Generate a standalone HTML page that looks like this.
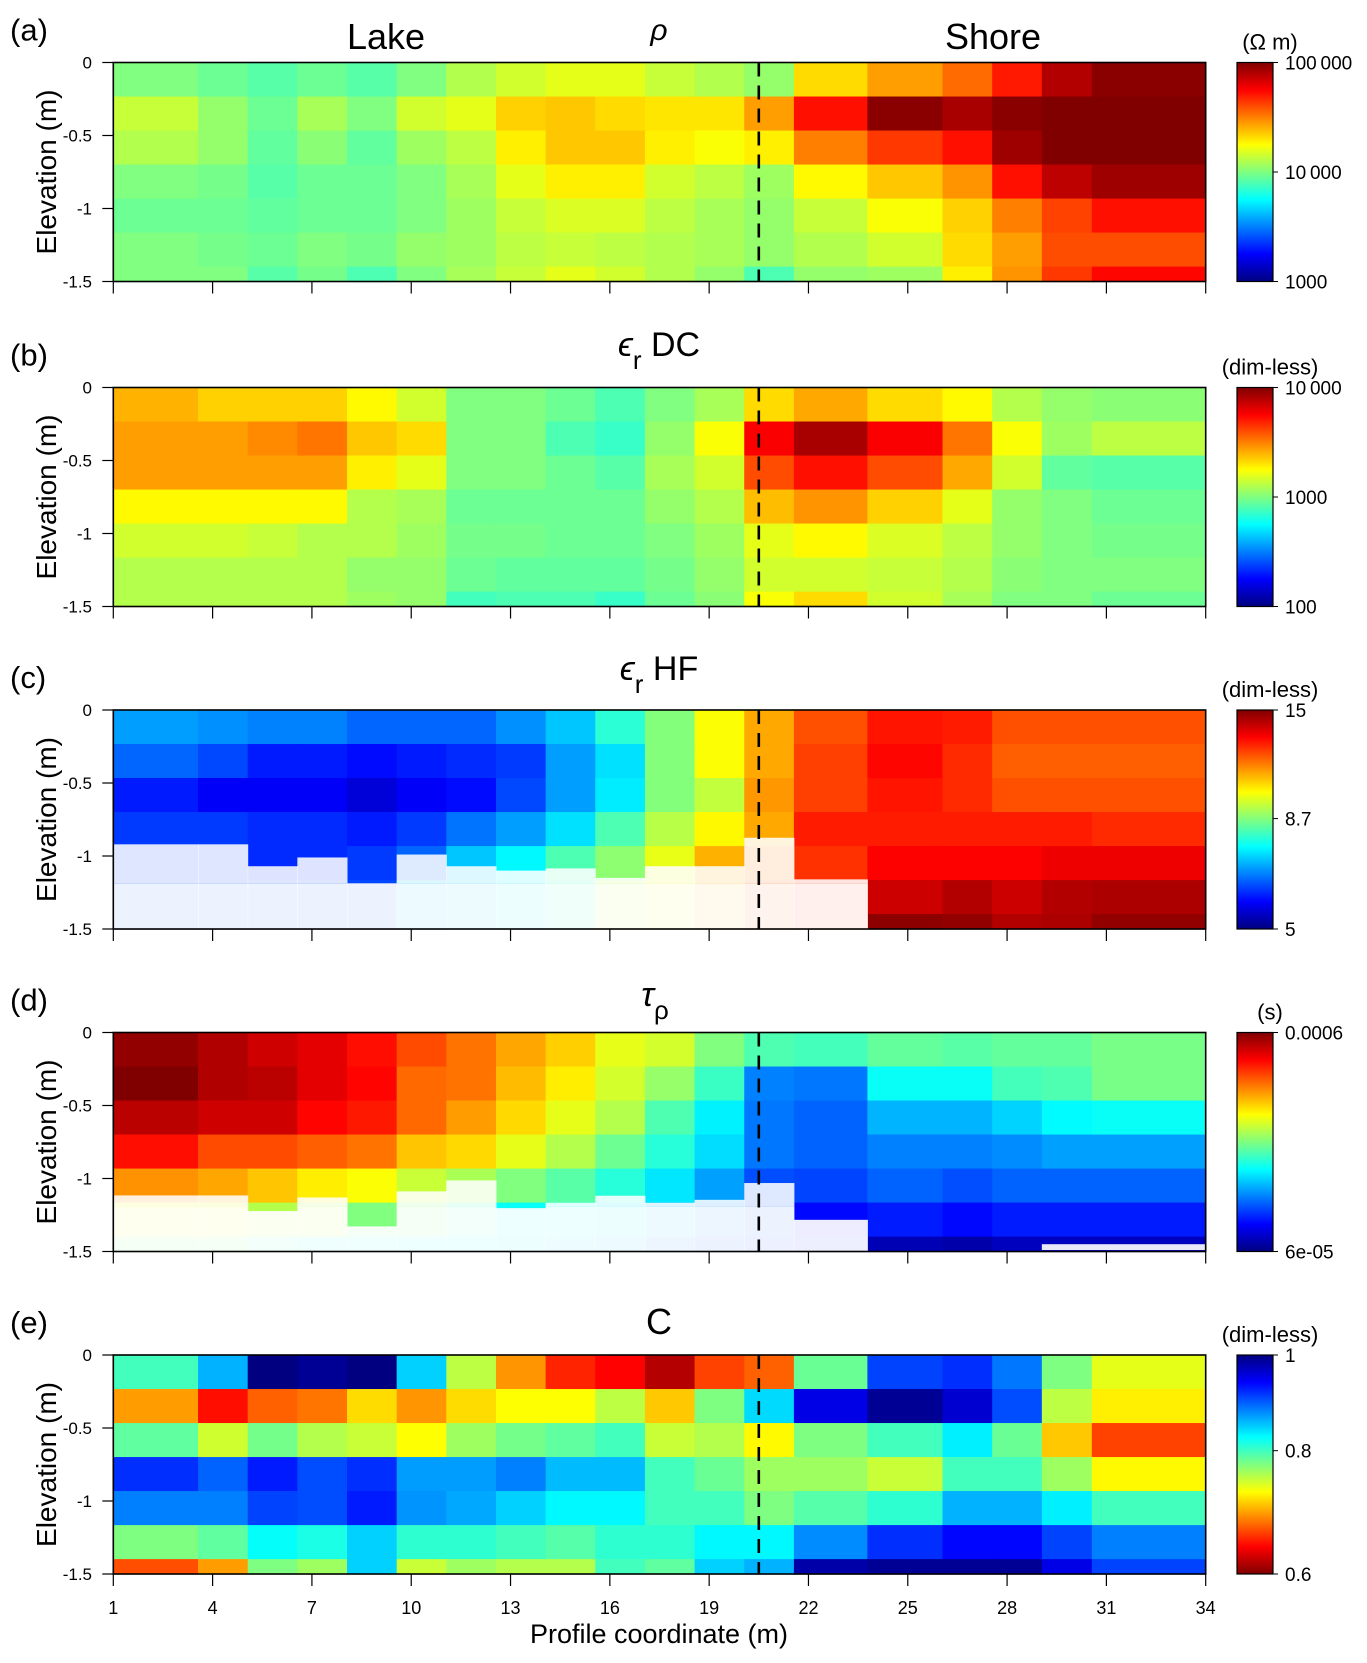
<!DOCTYPE html>
<html><head><meta charset="utf-8"><style>
html,body{margin:0;padding:0;background:#fff;}
svg{display:block;font-family:"Liberation Sans",Arial,sans-serif;}
</style></head><body>
<svg id="fig" width="1367" height="1663" viewBox="0 0 1367 1663" xmlns="http://www.w3.org/2000/svg">
<defs>
<linearGradient id="jetUp" x1="0" y1="1" x2="0" y2="0">
<stop offset="0" stop-color="#000080"/><stop offset="0.125" stop-color="#0000ff"/><stop offset="0.375" stop-color="#00ffff"/><stop offset="0.625" stop-color="#ffff00"/><stop offset="0.875" stop-color="#ff0000"/><stop offset="1" stop-color="#800000"/>
</linearGradient>
<linearGradient id="jetDown" x1="0" y1="0" x2="0" y2="1">
<stop offset="0" stop-color="#000080"/><stop offset="0.125" stop-color="#0000ff"/><stop offset="0.375" stop-color="#00ffff"/><stop offset="0.625" stop-color="#ffff00"/><stop offset="0.875" stop-color="#ff0000"/><stop offset="1" stop-color="#800000"/>
</linearGradient>
</defs>
</svg>
<script>
// ---- shared grid (m) ----
const colEdges = [1,3.56,5.06,6.56,8.06,9.56,11.06,12.56,14.06,15.56,17.06,18.56,20.06,21.56,23.78,26.05,27.55,29.05,30.56,34];
const rowEdges = [0,-0.233,-0.466,-0.699,-0.932,-1.165,-1.398,-1.5];
const xTicks = [1,4,7,10,13,16,19,22,25,28,31,34];
const yTicks = [0,-0.5,-1,-1.5];
const yTickLabels = ["0","-0.5","-1","-1.5"];
const shoreLine = 20.5;

// ---- (a) log10 resistivity (Ohm m) ----
const logRho = [
[4.00,3.96,3.92,3.96,3.92,4.00,4.10,4.16,4.20,4.20,4.14,4.10,4.04,4.32,4.44,4.54,4.70,4.90,4.98],
[4.14,4.04,3.96,4.08,4.00,4.16,4.20,4.34,4.36,4.32,4.30,4.30,4.44,4.72,4.98,4.92,4.98,5.00,5.00],
[4.10,4.04,3.94,4.02,3.94,4.06,4.12,4.28,4.36,4.36,4.28,4.24,4.28,4.50,4.64,4.72,4.94,5.00,5.00],
[4.00,3.98,3.92,3.96,3.96,4.00,4.08,4.20,4.28,4.28,4.16,4.12,4.06,4.26,4.36,4.46,4.72,4.88,4.94],
[3.96,3.96,3.94,3.96,3.96,4.00,4.06,4.14,4.18,4.18,4.12,4.08,4.04,4.14,4.24,4.34,4.50,4.62,4.72],
[4.00,3.98,3.96,4.00,3.98,4.04,4.06,4.12,4.14,4.12,4.10,4.08,4.04,4.10,4.16,4.32,4.44,4.60,4.60],
[4.00,4.00,3.92,3.98,3.90,4.00,4.08,4.14,4.20,4.16,4.10,4.04,3.90,4.04,4.06,4.28,4.46,4.64,4.74]];
// ---- (b) log10 eps_r DC ----
const logEpsDC = [
[3.40,3.34,3.34,3.34,3.26,3.16,3.00,3.00,2.96,2.90,3.00,3.08,3.32,3.42,3.32,3.26,3.10,3.04,3.02],
[3.44,3.44,3.48,3.52,3.36,3.32,3.00,3.00,2.90,2.86,3.04,3.24,3.76,3.92,3.76,3.52,3.24,3.06,3.12],
[3.44,3.44,3.44,3.44,3.28,3.20,3.00,3.00,2.96,2.92,3.08,3.16,3.60,3.72,3.60,3.42,3.16,2.94,2.92],
[3.26,3.26,3.26,3.26,3.10,3.08,2.96,2.96,2.96,2.96,3.04,3.10,3.38,3.46,3.34,3.20,3.04,3.00,2.96],
[3.16,3.16,3.14,3.10,3.10,3.06,2.98,2.98,2.96,2.96,3.00,3.06,3.20,3.26,3.18,3.12,3.04,3.00,2.98],
[3.10,3.10,3.10,3.10,3.04,3.04,2.96,2.94,2.94,2.94,2.98,3.04,3.16,3.16,3.14,3.10,3.02,3.00,3.00],
[3.10,3.10,3.10,3.10,3.06,3.04,2.88,2.90,2.90,2.86,2.96,3.02,3.24,3.32,3.16,3.08,3.00,3.00,2.96]];
// ---- (c) eps_r HF (log colour scale 5-15) ----
const epsHF = [
[6.8,6.7,6.6,6.6,6.4,6.4,6.4,6.7,7.1,7.9,8.7,9.9,10.9,12.0,12.8,12.7,12.0,12.0,12.0],
[6.4,6.2,5.9,5.9,5.8,5.9,6.0,6.1,6.8,7.3,8.7,9.9,10.9,12.2,13.0,12.5,11.8,11.8,11.8],
[5.9,5.7,5.7,5.7,5.5,5.7,5.8,6.2,6.8,7.4,8.7,9.3,11.1,12.2,12.8,12.5,12.0,12.0,12.0],
[6.1,6.1,6.0,6.0,5.9,6.1,6.5,6.8,7.3,8.2,9.2,10.0,10.9,12.7,12.7,12.7,12.7,12.7,12.5],
[6.2,6.2,6.0,6.0,6.1,6.4,7.1,7.5,8.2,8.8,9.7,10.8,11.4,12.4,13.1,13.1,13.1,13.3,13.3],
[6.2,6.2,6.2,6.2,6.2,7.0,7.1,7.4,8.1,9.2,9.7,10.8,11.8,12.5,13.8,14.2,13.8,14.2,14.3],
[6.2,6.2,6.2,6.2,6.2,7.0,7.1,7.4,8.1,9.2,9.7,10.8,11.8,12.5,14.8,14.7,14.2,14.3,14.7]];
const maskHF = [0.92,0.92,1.07,1.01,1.186,0.99,1.07,1.10,1.085,1.15,1.07,1.07,0.875,1.16];
// ---- (d) log10 tau_rho (s) ----
const logTau = [
[-3.24,-3.27,-3.30,-3.32,-3.36,-3.42,-3.46,-3.51,-3.55,-3.62,-3.64,-3.72,-3.77,-3.78,-3.75,-3.76,-3.75,-3.75,-3.73],
[-3.22,-3.27,-3.28,-3.32,-3.35,-3.45,-3.46,-3.53,-3.58,-3.64,-3.70,-3.79,-3.97,-3.98,-3.84,-3.84,-3.78,-3.77,-3.73],
[-3.28,-3.30,-3.30,-3.35,-3.37,-3.45,-3.50,-3.56,-3.62,-3.67,-3.77,-3.86,-3.98,-4.00,-3.92,-3.92,-3.89,-3.85,-3.84],
[-3.36,-3.42,-3.42,-3.44,-3.46,-3.54,-3.56,-3.62,-3.67,-3.74,-3.81,-3.88,-3.98,-4.00,-3.97,-3.97,-3.96,-3.94,-3.94],
[-3.49,-3.51,-3.54,-3.58,-3.60,-3.65,-3.68,-3.72,-3.76,-3.81,-3.87,-3.94,-4.02,-4.03,-4.00,-4.02,-4.00,-4.00,-4.00],
[-3.62,-3.62,-3.67,-3.67,-3.72,-3.72,-3.77,-3.84,-3.84,-3.87,-3.92,-3.97,-4.02,-4.09,-4.07,-4.09,-4.07,-4.07,-4.07],
[-3.72,-3.72,-3.77,-3.82,-3.82,-3.84,-3.84,-3.87,-3.89,-3.92,-3.97,-4.02,-4.04,-4.07,-4.17,-4.18,-4.16,-4.16,-4.16]];
const maskTau = [1.116,1.116,1.223,1.13,1.328,1.088,1.013,1.203,1.166,1.118,1.166,1.146,1.031,1.283];
// ---- (e) C (log colour scale 0.6-1, reversed) ----
const chargC = [
[0.799,0.858,1.000,0.990,1.000,0.845,0.751,0.689,0.651,0.640,0.616,0.661,0.671,0.783,0.907,0.917,0.884,0.775,0.736],
[0.692,0.644,0.671,0.678,0.714,0.689,0.714,0.727,0.727,0.751,0.707,0.775,0.841,0.950,0.990,0.960,0.903,0.751,0.721],
[0.787,0.744,0.779,0.755,0.747,0.727,0.763,0.779,0.787,0.799,0.747,0.755,0.725,0.775,0.799,0.832,0.783,0.707,0.661],
[0.917,0.893,0.926,0.903,0.917,0.867,0.867,0.880,0.854,0.854,0.799,0.783,0.763,0.763,0.747,0.799,0.799,0.763,0.725],
[0.880,0.880,0.907,0.903,0.926,0.871,0.862,0.845,0.828,0.828,0.799,0.799,0.775,0.791,0.807,0.858,0.858,0.832,0.799],
[0.775,0.787,0.824,0.815,0.845,0.807,0.807,0.799,0.791,0.807,0.807,0.828,0.828,0.875,0.917,0.936,0.936,0.907,0.880],
[0.665,0.692,0.775,0.763,0.845,0.747,0.763,0.755,0.755,0.799,0.787,0.845,0.858,0.980,0.990,0.990,0.990,0.950,0.907]];

const NS = "http://www.w3.org/2000/svg";
const svg = document.getElementById("fig");
const X0 = 113.3, X1 = 1205.7, PH = 219;
const tops = [62.5, 387.5, 710, 1032.5, 1355];
function xS(m){ return X0 + (m - 1) / 33 * (X1 - X0); }
function yS(top, e){ return top + (-e) / 1.5 * PH; }
function el(tag, attrs, parent){ const e = document.createElementNS(NS, tag); for (const k in attrs) e.setAttribute(k, attrs[k]); (parent||svg).appendChild(e); return e; }
function clamp(v){ return Math.max(0, Math.min(1, v)); }
function jet(t){
  t = clamp(t);
  const r = clamp(Math.min(4*t-1.5, -4*t+4.5)), g = clamp(Math.min(4*t-0.5, -4*t+3.5)), b = clamp(Math.min(4*t+0.5, -4*t+2.5));
  return "rgb(" + Math.round(r*255) + "," + Math.round(g*255) + "," + Math.round(b*255) + ")";
}
const panels = [
 {key:"rho", data:logRho, norm:v => (v-3)/2, mask:null, letter:"(a)", units:"(\u03A9 m)", cb:["100\u2009000","10\u2009000","1000"], cbPos:[1,0.5,0], grad:"jetUp"},
 {key:"eps-dc", data:logEpsDC, norm:v => (v-2)/2, mask:null, letter:"(b)", units:"(dim-less)", cb:["10\u2009000","1000","100"], cbPos:[1,0.5,0], grad:"jetUp"},
 {key:"eps-hf", data:epsHF, norm:v => Math.log(v/5)/Math.log(3), mask:maskHF, letter:"(c)", units:"(dim-less)", cb:["15","8.7","5"], cbPos:[1,Math.log(8.7/5)/Math.log(3),0], grad:"jetUp"},
 {key:"tau", data:logTau, norm:v => (v-Math.log10(6e-5)), mask:maskTau, letter:"(d)", units:"(s)", cb:["0.0006","6e-05"], cbPos:[1,0], grad:"jetUp"},
 {key:"c", data:chargC, norm:v => 1 - Math.log(v/0.6)/Math.log(1/0.6), mask:null, letter:"(e)", units:"(dim-less)", cb:["1","0.8","0.6"], cbPos:[1,Math.log(0.8/0.6)/Math.log(1/0.6),0], grad:"jetDown"}
];

panels.forEach((p, pi) => {
  const top = tops[pi];
  const g = el("g", {});
  
  
  p.data.forEach((row, ri) => {
    row.forEach((v, ci) => {
      const x = xS(colEdges[ci]), w = xS(colEdges[ci+1]) - x;
      const y = yS(top, rowEdges[ri]), h = yS(top, rowEdges[ri+1]) - y;
      const r = el("rect", {x:x.toFixed(2), y:y.toFixed(2), width:(w+0.6).toFixed(2), height:(h+0.6).toFixed(2), fill:jet(p.norm(v))}, g);
      
      
    });
  });
  if (p.mask) {
    p.mask.forEach((d, ci) => {
      const x = xS(colEdges[ci]), w = xS(colEdges[ci+1]) - x;
      const mid = Math.max(d, 1.19);
      const r1 = el("rect", {x:x, y:yS(top,-d), width:w+0.5, height:yS(top,-mid)-yS(top,-d), fill:"#fff", "fill-opacity":0.87}, g);
      
      
      const r2 = el("rect", {x:x, y:yS(top,-mid), width:w+0.5, height:yS(top,-1.5)-yS(top,-mid), fill:"#fff", "fill-opacity":0.93}, g);
      
      
    });
  }
  if (p.key === "tau") {
    const r = el("rect", {x:xS(colEdges[17]), y:yS(top,-1.45), width:xS(34)-xS(colEdges[17]), height:yS(top,-1.49)-yS(top,-1.45), fill:"#e8e8f8"}, g);
    
    
  }
  const dl = el("line", {x1:xS(shoreLine), x2:xS(shoreLine), y1:top, y2:top+PH, stroke:"#000", "stroke-width":2.6, "stroke-dasharray":"14,9"}, g);
  
  
  const fr = el("rect", {x:X0, y:top, width:X1-X0, height:PH, fill:"none", stroke:"#000", "stroke-width":1.6}, g);
  
  
  yTicks.forEach((t, i) => {
    const y = yS(top, t);
    const tk = el("line", {x1:X0-11, x2:X0, y1:y, y2:y, stroke:"#000", "stroke-width":1.2}, g);
    
    
    const tl = el("text", {x:92, y:y+6, "text-anchor":"end", "font-size":17, fill:"#000"}, g);
    tl.textContent = yTickLabels[i];
    
    
  });
  xTicks.forEach(t => {
    const x = xS(t);
    const tk = el("line", {x1:x, x2:x, y1:top+PH, y2:top+PH+12, stroke:"#000", "stroke-width":1.2}, g);
    
    
    if (pi === 4) {
      const tl = el("text", {x:x, y:top+PH+40, "text-anchor":"middle", "font-size":18, fill:"#000"}, g);
      tl.textContent = String(t);
      
      
    }
  });
  const yt = el("text", {transform:"translate(56," + (top+PH/2) + ") rotate(-90)", "text-anchor":"middle", "font-size":28, fill:"#000"}, g);
  yt.textContent = "Elevation (m)";
  
  
  const lt = el("text", {x:10, y:top-22, "font-size":31, fill:"#000"}, g);
  lt.textContent = p.letter;
  
  
  const cbx = 1237, cbw = 36;
  const cbr = el("rect", {x:cbx, y:top, width:cbw, height:PH, fill:"url(#" + p.grad + ")", stroke:"#000", "stroke-width":1.2}, g);
  
  
  p.cb.forEach((lab, i) => {
    const y = top + PH * (1 - p.cbPos[i]);
    const tk = el("line", {x1:cbx+cbw, x2:cbx+cbw+5, y1:y, y2:y, stroke:"#000", "stroke-width":1}, g);
    
    
    const tl = el("text", {x:1285, y:y+7, "font-size":19, fill:"#000"}, g);
    tl.textContent = lab;
    
    
  });
  const un = el("text", {x:1270, y:top-13, "text-anchor":"middle", "font-size":22, fill:"#000"}, g);
  un.textContent = p.units;
  
  
});

function title(txt, x, y, size, name, italic){
  const t = el("text", {x:x, y:y, "text-anchor":"middle", "font-size":size, fill:"#000"});
  if (italic) t.setAttribute("font-style", "italic");
  t.textContent = txt;
  
  
  return t;
}
title("Lake", 386, 49, 36, "lake-label", false);
title("Shore", 993, 49, 36, "shore-label", false);
title("\u03C1", 659, 40, 30, "title-rho", true);
function subTitle(main, sub, rest, x, y, name){
  const t = el("text", {x:x, y:y, "text-anchor":"middle", "font-size":34, fill:"#000"});
  
  
  const a = el("tspan", {"font-style":"italic"}, t); a.textContent = main;
  const b = el("tspan", {"font-size":26, dy:13}, t); b.textContent = sub;
  if (rest) { const c = el("tspan", {dy:-13}, t); c.textContent = rest; }
}
subTitle("\u03F5", "r", " DC", 659, 356, "title-eps-dc");
subTitle("\u03F5", "r", " HF", 659, 680, "title-eps-hf");
subTitle("\u03C4", "\u03C1", "", 655, 1006, "title-tau");
title("C", 659, 1334, 36, "title-c", false);
title("Profile coordinate (m)", 659, 1643, 27, "x-axis-title", false);
</script>
</body></html>
